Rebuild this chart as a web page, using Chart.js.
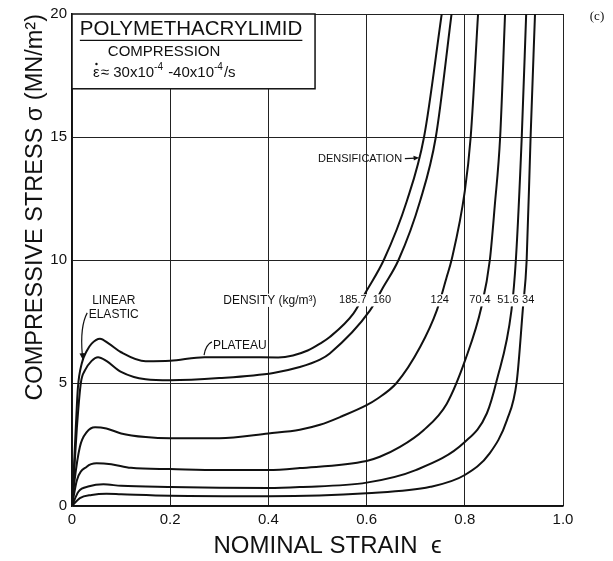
<!DOCTYPE html>
<html>
<head>
<meta charset="utf-8">
<script src="https://cdn.jsdelivr.net/npm/chart.js@4.4.0/dist/chart.umd.min.js"></script>
<style>
  html, body { margin: 0; padding: 0; background: #fff; }
</style>
</head>
<body>
<canvas id="chart" width="613" height="561"></canvas>
<script>
// axis ticks
const strainTicks = [0, 0.2, 0.4, 0.6, 0.8, 1.0];
const stressTicks = [0, 5, 10, 15, 20];

// density of each foam (kg/m3), same order as the curves below
const densityLabels = ['185.7', '160', '124', '70.4', '51.6', '34'];

// curves: strain / stress (MN/m2)
const strain1857 = [0, 0.004, 0.008, 0.012, 0.02, 0.03, 0.04, 0.057, 0.075, 0.1, 0.15, 0.2, 0.27, 0.35, 0.42, 0.45, 0.48, 0.505, 0.525, 0.573, 0.6, 0.635, 0.682, 0.717, 0.753];
const stress1857 = [0, 1.6, 3.3, 4.8, 5.8, 6.3, 6.6, 6.8, 6.6, 6.25, 5.88, 5.9, 6.05, 6.05, 6.04, 6.12, 6.32, 6.6, 6.87, 7.82, 8.75, 10, 12.4, 15, 20];

const strain160 = [0, 0.005, 0.01, 0.018, 0.026, 0.04, 0.053, 0.07, 0.1, 0.15, 0.2, 0.3, 0.41, 0.464, 0.505, 0.525, 0.607, 0.634, 0.665, 0.709, 0.741, 0.773];
const stress160 = [0, 1.6, 3.2, 5.0, 5.5, 5.9, 6.05, 5.9, 5.45, 5.15, 5.11, 5.2, 5.41, 5.65, 5.95, 6.2, 7.95, 8.9, 10, 12.4, 15, 20];

const strain124 = [0, 0.005, 0.016, 0.03, 0.047, 0.07, 0.1, 0.15, 0.2, 0.3, 0.4, 0.464, 0.505, 0.55, 0.6, 0.621, 0.661, 0.709, 0.743, 0.763, 0.773, 0.8, 0.812, 0.827];
const stress124 = [0, 1.0, 2.4, 3.0, 3.2, 3.15, 2.95, 2.8, 2.75, 2.75, 2.95, 3.1, 3.3, 3.65, 4.1, 4.35, 5.0, 6.46, 7.95, 9.3, 10, 12.8, 15, 20];

const strain704 = [0, 0.01, 0.03, 0.05, 0.08, 0.12, 0.2, 0.3, 0.4, 0.464, 0.6, 0.627, 0.668, 0.716, 0.763, 0.802, 0.834, 0.851, 0.861, 0.872, 0.882];
const stress704 = [0, 1.05, 1.6, 1.74, 1.7, 1.55, 1.5, 1.46, 1.46, 1.54, 1.83, 2.0, 2.4, 3.08, 4.15, 6.0, 8.1, 10, 12.2, 15, 20];

const strain516 = [0, 0.013, 0.035, 0.064, 0.1, 0.2, 0.3, 0.4, 0.464, 0.6, 0.7, 0.8, 0.845, 0.865, 0.895, 0.904, 0.916, 0.925];
const stress516 = [0, 0.58, 0.8, 0.88, 0.82, 0.77, 0.74, 0.73, 0.77, 0.95, 1.46, 2.6, 3.77, 5.1, 7.95, 10, 15, 20];

const strain34 = [0, 0.016, 0.04, 0.07, 0.1, 0.2, 0.4, 0.6, 0.73, 0.8, 0.851, 0.886, 0.906, 0.918, 0.926, 0.934, 0.943];
const stress34 = [0, 0.32, 0.45, 0.5, 0.48, 0.42, 0.40, 0.52, 0.78, 1.26, 2.15, 3.5, 5.1, 7.95, 10, 15, 20];

// where the density numbers sit (strain, stress)
const labelStrain = [0.572, 0.631, 0.749, 0.831, 0.888, 0.929];
const labelStress = 8.36;

const curves = [
  [strain1857, stress1857], [strain160, stress160], [strain124, stress124],
  [strain704, stress704], [strain516, stress516], [strain34, stress34]
];

const SANS = "'Liberation Sans', Arial, sans-serif";
const INK = '#111';

function zip(xs, ys) { return xs.map((v, i) => ({ x: v, y: ys[i] })); }

// text with a white patch behind it, so the curve looks broken at the label
function patchText(ctx, txt, px, py, size, align) {
  ctx.font = size + 'px ' + SANS;
  const w = ctx.measureText(txt).width;
  const left = align === 'center' ? px - w / 2 : px;
  ctx.fillStyle = '#fff';
  ctx.fillRect(left - 2, py - size * 0.55, w + 4, size * 1.1);
  ctx.fillStyle = INK;
  ctx.textAlign = 'left';
  ctx.textBaseline = 'middle';
  ctx.fillText(txt, left, py);
}

function arrowHead(ctx, fx, fy, tx, ty, len) {
  const a = Math.atan2(ty - fy, tx - fx);
  ctx.beginPath();
  ctx.moveTo(tx, ty);
  ctx.lineTo(tx - len * Math.cos(a - 0.4), ty - len * Math.sin(a - 0.4));
  ctx.lineTo(tx - len * Math.cos(a + 0.4), ty - len * Math.sin(a + 0.4));
  ctx.closePath();
  ctx.fill();
}

const notes = {
  id: 'notes',
  afterDatasetsDraw(chart) {
    const { ctx, scales: { x, y } } = chart;
    const X = v => x.getPixelForValue(v);
    const Y = v => y.getPixelForValue(v);
    ctx.save();

    // title box in the top left corner
    const bx0 = X(0), bx1 = X(0.495), by0 = Y(20), by1 = Y(16.96);
    ctx.fillStyle = '#fff';
    ctx.fillRect(bx0, by0, bx1 - bx0, by1 - by0);
    ctx.strokeStyle = INK;
    ctx.lineWidth = 1.5;
    ctx.strokeRect(bx0, by0, bx1 - bx0, by1 - by0);

    ctx.fillStyle = INK;
    ctx.textAlign = 'left';
    ctx.textBaseline = 'middle';
    ctx.font = '20.5px ' + SANS;
    const t1 = 'POLYMETHACRYLIMID';
    ctx.fillText(t1, X(0.016), Y(19.39));
    const tw = ctx.measureText(t1).width;
    ctx.lineWidth = 1.2;
    ctx.beginPath();
    ctx.moveTo(X(0.016), Y(18.93));
    ctx.lineTo(X(0.016) + tw, Y(18.93));
    ctx.stroke();

    ctx.font = '15px ' + SANS;
    ctx.fillText('COMPRESSION', X(0.073), Y(18.46));

    // strain rate line: epsilon with a dot, then the range with superscripts
    let cx = X(0.043);
    const cy = Y(17.6);
    ctx.font = '15px ' + SANS;
    const epsW = ctx.measureText('\u03B5').width;
    ctx.fillText('\u03B5', cx, cy);
    ctx.beginPath();
    ctx.arc(cx + epsW / 2, cy - 9, 1.2, 0, Math.PI * 2);
    ctx.fill();
    cx += epsW + 1;
    const parts = [['\u2248 30x10', 0], ['-4', 1], [' -40x10', 0], ['-4', 1], ['/s', 0]];
    parts.forEach(([s, sup]) => {
      ctx.font = (sup ? '10px ' : '15px ') + SANS;
      ctx.fillText(s, cx, sup ? cy - 6 : cy);
      cx += ctx.measureText(s).width + (sup ? 1 : 0);
    });

    // density labels on the curves
    patchText(ctx, 'DENSITY (kg/m\u00B3)', X(0.308), Y(labelStress), 12, 'left');
    densityLabels.forEach((d, i) => {
      patchText(ctx, d, X(labelStrain[i]), Y(labelStress), 11, 'center');
    });

    // other annotations
    ctx.font = '12px ' + SANS;
    ctx.fillStyle = INK;
    ctx.fillText('LINEAR', X(0.041), Y(8.36));
    ctx.fillText('ELASTIC', X(0.034), Y(7.78));
    ctx.fillText('PLATEAU', X(0.287), Y(6.53));
    ctx.font = '11px ' + SANS;
    ctx.fillText('DENSIFICATION', X(0.501), Y(14.12));

    ctx.strokeStyle = INK;
    ctx.lineWidth = 1.2;
    // linear elastic leader
    ctx.beginPath();
    ctx.moveTo(X(0.031), Y(7.85));
    ctx.quadraticCurveTo(X(0.016), Y(7.3), X(0.021), Y(6.15));
    ctx.stroke();
    arrowHead(ctx, X(0.019), Y(6.6), X(0.022), Y(5.95), 7);
    // plateau leader
    ctx.beginPath();
    ctx.moveTo(X(0.285), Y(6.67));
    ctx.quadraticCurveTo(X(0.272), Y(6.55), X(0.269), Y(6.13));
    ctx.stroke();
    // densification arrow
    ctx.beginPath();
    ctx.moveTo(X(0.678), Y(14.12));
    ctx.lineTo(X(0.7), Y(14.14));
    ctx.stroke();
    arrowHead(ctx, X(0.69), Y(14.13), X(0.707), Y(14.16), 6);

    // panel letter
    ctx.font = '13px "Liberation Serif", serif';
    ctx.textAlign = 'center';
    ctx.fillText('(c)', chart.chartArea.right + 34, Y(19.9));
    ctx.restore();
  }
};

new Chart(document.getElementById('chart'), {
  type: 'line',
  data: {
    datasets: curves.map((c, i) => ({
      label: densityLabels[i],
      data: zip(c[0], c[1]),
      borderColor: INK,
      borderWidth: 2,
      pointRadius: 0,
      fill: false,
      cubicInterpolationMode: 'monotone'
    }))
  },
  options: {
    responsive: false,
    animation: false,
    layout: { padding: { top: 13, right: 50, left: 0, bottom: 0 } },
    plugins: { legend: { display: false }, tooltip: { enabled: false } },
    scales: {
      x: {
        type: 'linear', min: 0, max: 1,
        afterFit: s => { s.height = 55; },
        afterBuildTicks: s => { s.ticks = strainTicks.map(v => ({ value: v })); },
        ticks: {
          padding: 5, color: INK, maxRotation: 0,
          font: { family: SANS, size: 15 },
          callback: v => v === 0 ? '0' : v.toFixed(1)
        },
        grid: { color: '#222', lineWidth: 1, drawTicks: false },
        border: { color: INK, width: 1.5 },
        title: {
          display: true, text: '   NOMINAL STRAIN  \u03F5', color: INK,
          font: { family: SANS, size: 24 }, padding: { top: 0, bottom: 0 }
        }
      },
      y: {
        min: 0, max: 20,
        afterFit: s => { s.width = 72; },
        afterBuildTicks: s => { s.ticks = stressTicks.map(v => ({ value: v })); },
        ticks: { padding: 5, color: INK, font: { family: SANS, size: 15 } },
        grid: { color: '#222', lineWidth: 1, drawTicks: false },
        border: { color: INK, width: 1.5 },
        title: {
          display: true, text: 'COMPRESSIVE STRESS \u03C3 (MN/m\u00B2)', color: INK, align: 'end',
          font: { family: SANS, size: 23.5 }, padding: { top: 21, bottom: 0 }
        }
      }
    }
  },
  plugins: [notes]
});
</script>
</body>
</html>
